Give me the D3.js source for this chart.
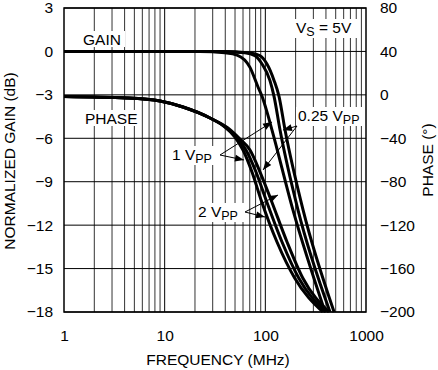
<!DOCTYPE html>
<html><head><meta charset="utf-8">
<script src="https://cdn.jsdelivr.net/npm/d3@7"></script>
<style>html,body{margin:0;padding:0;background:#fff;}svg{display:block;font-family:Arial,"Liberation Sans",sans-serif;}</style>
</head><body>
<svg id="c" width="438" height="370"></svg>
<script>
// ---- data ----
const gainTicks = [3, 0, -3, -6, -9, -12, -15, -18];
const phaseTicks = [80, 40, 0, -40, -80, -120, -160, -200];
const freqTicks = [1, 10, 100, 1000];

const gainA_f = [1, 22.4, 39.7, 52.3, 70.4, 84.6, 92.7, 103.8, 116.5, 188, 392];
const gainA_v = [0, 0, -0.1, -0.25, -1.1, -2.46, -3.1, -4.18, -5.43, -10.95, -18];
const gainB_f = [1, 30, 62.6, 78.9, 92.7, 111, 122, 140, 211, 439];
const gainB_v = [0, 0, -0.1, -0.3, -0.87, -2, -3.1, -5.43, -10.95, -18];
const gainC_f = [1, 36, 70.4, 88.6, 103.8, 122, 136.7, 157, 237, 482];
const gainC_v = [0, 0, -0.1, -0.3, -0.87, -2, -3.1, -5.43, -10.95, -18];

const phase1_f = [1, 4.22, 8.99, 15.2, 28.2, 39.7, 49.9, 60.0, 73.7, 90.7, 130.6, 195.6, 372.7];
const phase1_v = [-1.5, -2.9, -5.7, -11.2, -21.3, -29.6, -38.8, -50.8, -71.1, -96.8, -135.5, -168.7, -200];
const phase2_f = [1, 4.22, 8.99, 15.2, 28.2, 40.6, 52.3, 64.2, 80.8, 101.7, 146.5, 214.6, 399.5];
const phase2_v = [-1.5, -2.9, -5.7, -11.2, -21.3, -30.1, -39.7, -50.8, -71.1, -96.8, -135.5, -168.7, -200];
const phase3_f = [1, 4.22, 8.99, 15.2, 28.2, 42.5, 56.0, 70.4, 88.6, 114.0, 164.3, 235.4, 428.1];
const phase3_v = [-1.5, -2.9, -5.7, -11.2, -21.3, -30.5, -40.7, -50.8, -71.1, -96.8, -135.5, -168.7, -200];

// ---- layout ----
const L = 64, R = 366, T = 8, B = 312;
const FS = 15.5;
const svg = d3.select("#c");
const x = d3.scaleLog().domain([1, 1000]).range([L, R]);
const yG = d3.scaleLinear().domain([-18, 3]).range([B, T]);
const yP = d3.scaleLinear().domain([-200, 80]).range([B, T]);

// grid
const minor = [];
for (let d = 1; d <= 100; d *= 10) for (let k = 2; k <= 9; k++) minor.push(d * k);
svg.append("g").selectAll("line").data(minor).join("line")
  .attr("x1", d => x(d)).attr("x2", d => x(d)).attr("y1", T).attr("y2", B)
  .attr("stroke", "#333").attr("stroke-width", 1);
svg.append("g").selectAll("line").data([10, 100]).join("line")
  .attr("x1", d => x(d)).attr("x2", d => x(d)).attr("y1", T).attr("y2", B)
  .attr("stroke", "#000").attr("stroke-width", 1);
svg.append("g").selectAll("line").data(gainTicks).join("line")
  .attr("x1", L).attr("x2", R).attr("y1", d => yG(d)).attr("y2", d => yG(d))
  .attr("stroke", "#000").attr("stroke-width", 1);
svg.append("rect").attr("x", L).attr("y", T).attr("width", R - L).attr("height", B - T)
  .attr("fill", "none").attr("stroke", "#000").attr("stroke-width", 1.5);

// axes (text)
const axL = d3.axisLeft(yG).tickValues(gainTicks).tickSize(0).tickPadding(11).tickFormat(d3.format("d"));
const gL = svg.append("g").attr("transform", `translate(${L},0)`).call(axL);
const axRt = d3.axisRight(yP).tickValues(phaseTicks).tickSize(0).tickPadding(14).tickFormat(d3.format("d"));
const gR = svg.append("g").attr("transform", `translate(${R},0)`).call(axRt);
const axB = d3.axisBottom(x).tickValues(freqTicks).tickSize(0).tickPadding(18).tickFormat(d3.format("d"));
const gB = svg.append("g").attr("transform", `translate(0,${B})`).call(axB);
[gL, gR, gB].forEach(g => {
  g.select(".domain").remove();
  g.selectAll("text").attr("font-size", FS).attr("font-family", "Arial, 'Liberation Sans', sans-serif").attr("fill", "#000");
});

// titles
svg.append("text").attr("x", 218).attr("y", 365).attr("text-anchor", "middle")
  .attr("font-size", FS).text("FREQUENCY (MHz)");
svg.append("text").attr("transform", "translate(15,161) rotate(-90)").attr("text-anchor", "middle")
  .attr("font-size", FS).text("NORMALIZED GAIN (dB)");
svg.append("text").attr("transform", "translate(433,160) rotate(-90)").attr("text-anchor", "middle")
  .attr("font-size", FS).text("PHASE (°)");

// curves
const gainLine = d3.line().x(d => x(d[0])).y(d => yG(d[1])).curve(d3.curveMonotoneX);
const phaseLine = d3.line().x(d => x(d[0])).y(d => yP(d[1])).curve(d3.curveMonotoneX);
const zip = (a, b) => a.map((v, i) => [v, b[i]]);
const curves = svg.append("g").attr("fill", "none").attr("stroke", "#000").attr("stroke-width", 3)
  .attr("stroke-linejoin", "round");
[[phase1_f, phase1_v], [phase2_f, phase2_v], [phase3_f, phase3_v]].forEach(([f, v]) =>
  curves.append("path").attr("d", phaseLine(zip(f, v))));
[[gainA_f, gainA_v], [gainB_f, gainB_v], [gainC_f, gainC_v]].forEach(([f, v]) =>
  curves.append("path").attr("d", gainLine(zip(f, v))));

// labels
function label(xp, yp, main, sub) {
  const t = svg.append("text").attr("x", xp).attr("y", yp).attr("font-size", FS);
  t.append("tspan").text(main);
  if (sub) t.append("tspan").attr("font-size", 12.5).attr("dy", 3).text(sub);
  return t;
}
function bg(xp, yp, w, h) {
  svg.append("rect").attr("x", xp).attr("y", yp).attr("width", w).attr("height", h).attr("fill", "#fff");
}
bg(81, 31, 44, 16); label(83, 45, "GAIN");
bg(83, 110, 57, 16); label(85, 124, "PHASE");
bg(294, 19, 66, 19); label(296, 33, "V", "S").append("tspan").attr("dy", -3).attr("font-size", FS).text(" = 5V");
bg(296, 107, 66, 19); label(298, 121, "0.25 V", "PP");
bg(170, 146, 49, 19); label(172, 160, "1 V", "PP");
bg(196, 203, 49, 19); label(198, 217, "2 V", "PP");

// arrows
function arrow(x1, y1, x2, y2) {
  svg.append("line").attr("x1", x1).attr("y1", y1).attr("x2", x2).attr("y2", y2)
    .attr("stroke", "#000").attr("stroke-width", 1);
  const a = Math.atan2(y2 - y1, x2 - x1), len = 9, w = 3.5;
  const bx = x2 - len * Math.cos(a), by = y2 - len * Math.sin(a);
  const px = -Math.sin(a) * w, py = Math.cos(a) * w;
  svg.append("path").attr("d", `M${x2},${y2}L${bx + px},${by + py}L${bx - px},${by - py}Z`).attr("fill", "#000");
}
arrow(220, 155, 272, 122);
arrow(220, 155, 244, 160);
arrow(297, 126, 283, 130);
arrow(297, 126, 263, 170);
arrow(245, 212, 278, 195);
arrow(245, 212, 265, 217);
</script>
</body></html>
